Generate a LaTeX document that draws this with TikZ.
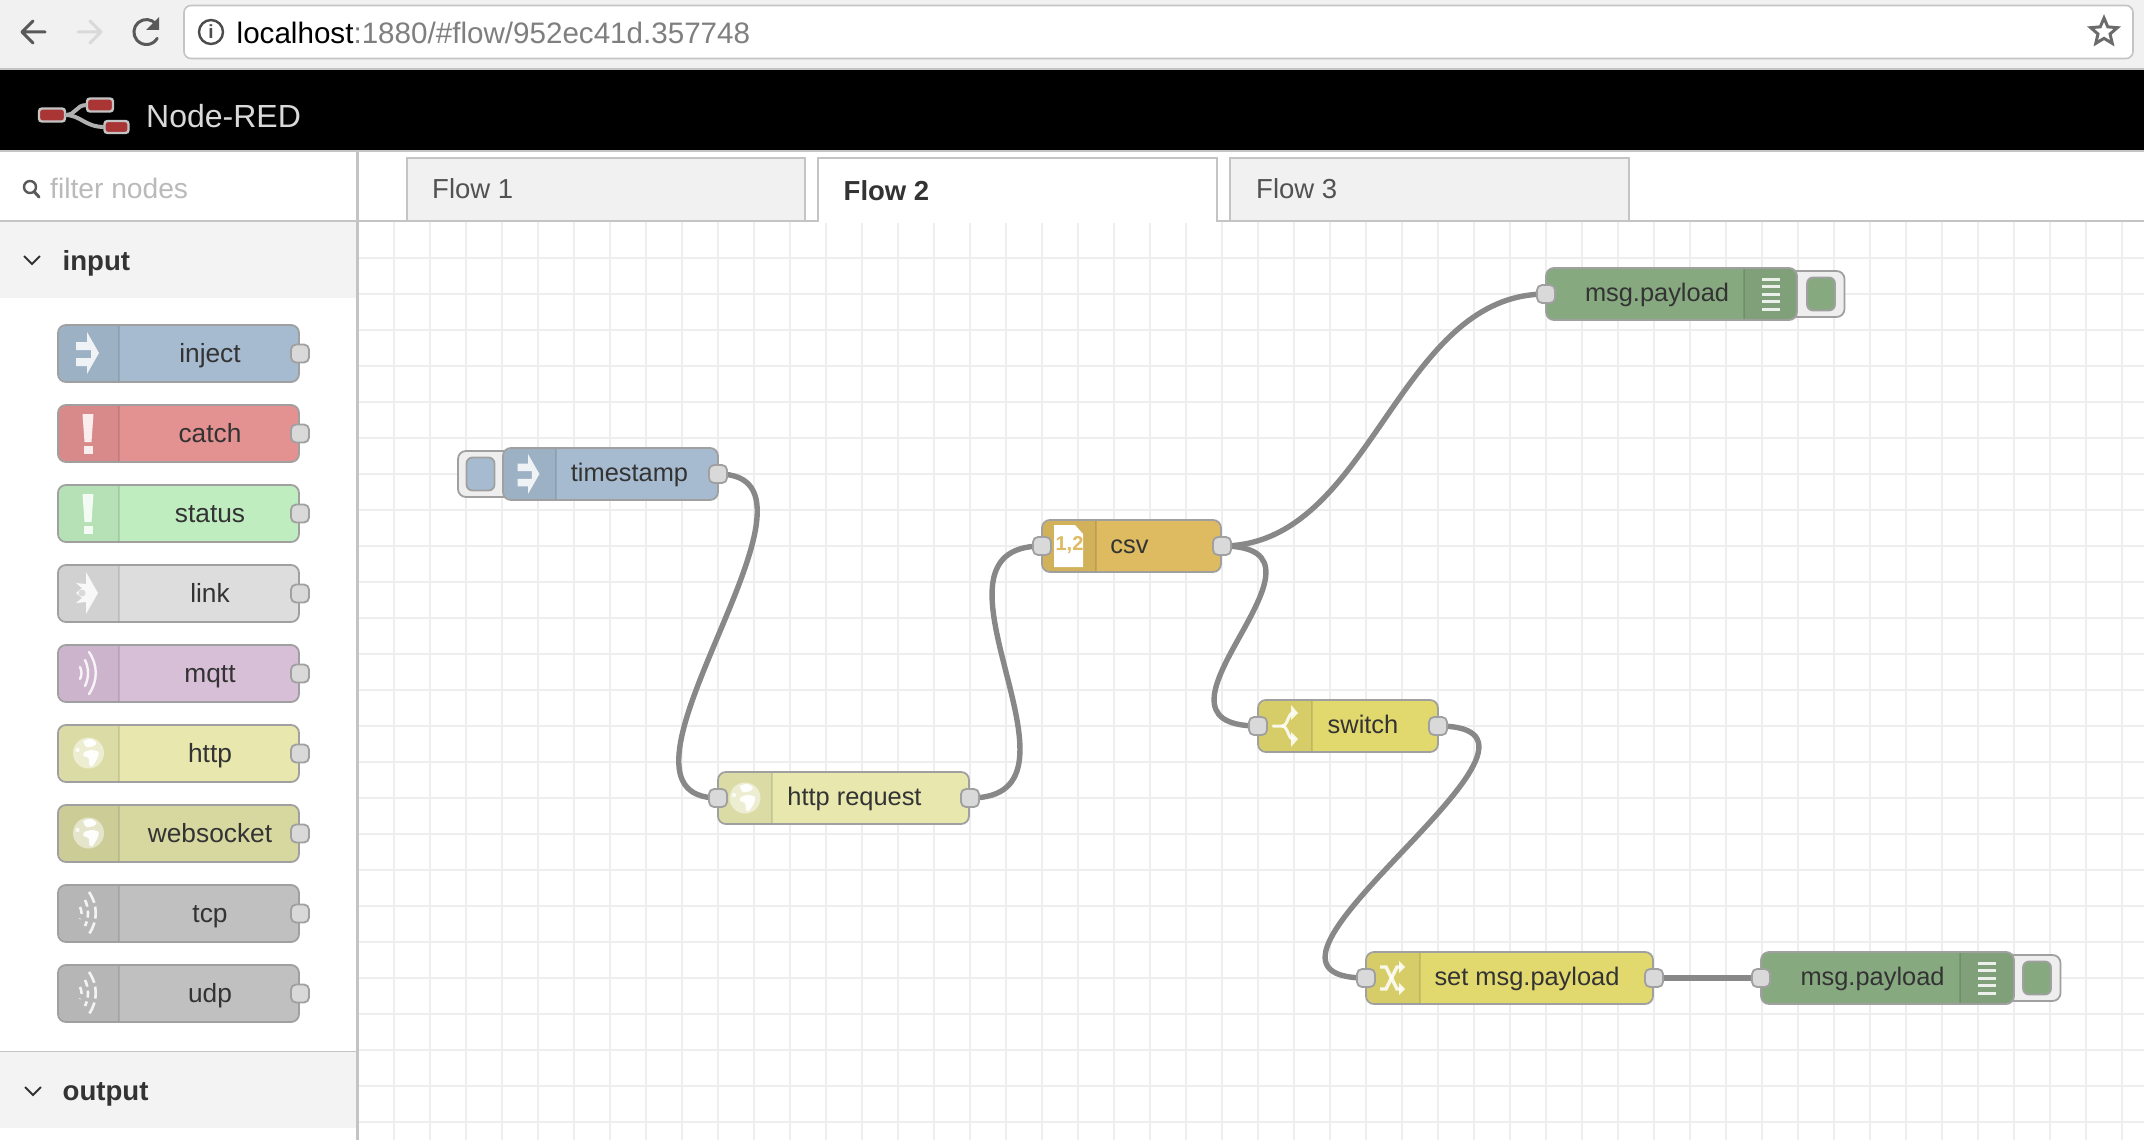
\documentclass[tikz,border=0pt]{standalone}
\usepackage{fontspec}
\setmainfont{Liberation Sans}
\usetikzlibrary{shapes.geometric}
\definecolor{cborder}{HTML}{A0A0A0}
\definecolor{cline}{HTML}{C4C4C4}
\definecolor{cport}{HTML}{D9D9D9}
\definecolor{cwire}{HTML}{888888}
\definecolor{cgrid}{HTML}{EEEEEE}
\definecolor{ctext}{HTML}{333333}
\definecolor{cchrome}{HTML}{F1F1F1}
\definecolor{chead}{HTML}{F3F3F3}
\definecolor{cinject}{HTML}{A6BBCF}
\definecolor{ccatch}{HTML}{E49191}
\definecolor{cstatus}{HTML}{C0EDC0}
\definecolor{clink}{HTML}{DDDDDD}
\definecolor{cmqtt}{HTML}{D8BFD8}
\definecolor{chttp}{HTML}{E7E7AE}
\definecolor{cws}{HTML}{D7D7A0}
\definecolor{ctcp}{HTML}{C0C0C0}
\definecolor{cdebug}{HTML}{87A980}
\definecolor{ccsv}{HTML}{DEBB60}
\definecolor{cswitch}{HTML}{E2D96E}
\definecolor{clogo}{HTML}{A93535}
\pgfdeclarelayer{gridlayer}
\pgfdeclarelayer{wires}
\pgfsetlayers{gridlayer,wires,main}
\newcommand{\fsz}[1]{\fontsize{#1pt}{#1pt}\selectfont}
\tikzset{
  nrbody/.style={draw=cborder,line width=1.8pt,rounded corners=8pt,outer sep=0pt,inner sep=0pt},
  nrport/.style={draw=cborder,fill=cport,line width=1.8pt,rounded corners=5pt,minimum width=18pt,minimum height=18pt,outer sep=0pt,inner sep=0pt},
  nrbutton/.style={draw=cborder,fill=cgrid,line width=1.8pt,rounded corners=8pt,minimum height=46pt,outer sep=0pt,inner sep=0pt},
  nrinner/.style={draw=cborder,line width=1.8pt,rounded corners=6pt,minimum width=28pt,minimum height=33pt,outer sep=0pt,inner sep=0pt},
  sidelabel/.style={anchor=base,inner sep=0pt,text=ctext,font=\fsz{26.3}},
  flowlabel/.style={anchor=base,inner sep=0pt,text=ctext,font=\fsz{25.4}},
  headlabel/.style={anchor=base west,inner sep=0pt,text=ctext,font=\fsz{27.6}\bfseries},
  tabbox/.style={draw=cline,line width=2pt},
  tablabel/.style={anchor=base west,inner sep=0pt,font=\fsz{27.5}},
  wire/.style={draw=cwire,line width=5.4pt},
  iconfill/.style={fill=white,fill opacity=.85},
  iconline/.style={draw=white,draw opacity=.85,line width=3pt,line cap=round},
  chevron/.style={draw=ctext,line width=2pt},
  toolicon/.style={line width=3pt,line cap=round,line join=round},
  logobox/.style={draw=cline,fill=clogo,line width=2.4pt,rounded corners=3pt,outer sep=0pt,inner sep=0pt},
  logowire/.style={draw=cline!90!black,line width=4pt},
}
% id x0 x1 cy halfheight colour stripx0 stripx1 dividerx
\newcommand{\nrnode}[9]{%
  \pgfmathsetmacro\nrw{#3-#2-2}\pgfmathsetmacro\nrh{2*#5-2}%
  \node[nrbody,fill=#6,minimum width=\nrw pt,minimum height=\nrh pt] (#1) at ({(#2+#3)/2},#4) {};
  \begin{scope}
    \clip[rounded corners=8pt] (#2+2,{#4-#5+2}) rectangle (#3-2,{#4+#5-2});
    \fill[black,opacity=.05] (#7,{#4-#5}) rectangle (#8,{#4+#5});
    \draw[black,opacity=.1,line width=2pt] (#9,{#4-#5}) -- (#9,{#4+#5});
  \end{scope}
}
\newcommand{\iconinject}[3]{\begin{scope}[shift={(#1,#2)},scale=#3]
  \fill[iconfill,even odd rule] (-11,-11)--(0,-11)--(0,-21)--(12,0)--(0,21)--(0,13)--(-11,13)--(-11,5)--(4,5)--(4,-3)--(-11,-3)--cycle;
\end{scope}}
\newcommand{\iconbang}[2]{\begin{scope}[shift={(#1,#2)}]
  \fill[iconfill] (-5.5,-19)--(5.5,-19)--(3.5,9)--(-3.5,9)--cycle;
  \fill[iconfill] (-4.5,13) rectangle (4.5,21);
\end{scope}}
\newcommand{\iconlink}[2]{\begin{scope}[shift={(#1,#2)}]
  \fill[iconfill] (-11,-10)--(-1,-9)--(-1,-21)--(11,0)--(-1,21)--(-1,9)--(-11,10)--(-5,5)--(-11,0)--(-5,-5)--cycle;
  \fill[black,opacity=.12] (-5,0) circle (3.5);
\end{scope}}
\newcommand{\iconmqtt}[2]{\begin{scope}[shift={(#1,#2)}]
  \draw[iconline,line width=2.4pt] (-7,-6) .. controls (-5,-2) and (-5,2) .. (-7,6);
  \draw[iconline,line width=2.4pt] (-2,-13) .. controls (2,-5) and (2,5) .. (-2,13);
  \draw[iconline,line width=2.4pt] (2,-21) .. controls (11,-8) and (11,8) .. (2,21);
\end{scope}}
\newcommand{\icontcp}[2]{\begin{scope}[shift={(#1,#2)}]
  \draw[iconline,line width=2.6pt,dash pattern=on 7pt off 5pt,line cap=butt] (-7,-6) .. controls (-5,-2) and (-5,2) .. (-7,6);
  \draw[iconline,line width=2.6pt,dash pattern=on 7pt off 4pt,line cap=butt] (-2,-13) .. controls (2,-5) and (2,5) .. (-2,13);
  \draw[iconline,line width=2.6pt,dash pattern=on 12pt off 4pt,line cap=butt] (2,-21) .. controls (11,-8) and (11,8) .. (2,21);
\end{scope}}
\newcommand{\iconglobe}[2]{\begin{scope}[shift={(#1,#2)}]
  \fill[white,opacity=.5] (0,0) circle (15.5);
  \fill[white,opacity=.95] plot[smooth cycle] coordinates {(-4,-1) (3,-3) (10,-1) (9,5) (4,13) (1,12) (0,5) (-5,3)};
  \fill[white,opacity=.95] plot[smooth cycle] coordinates {(-5,-12) (3,-14) (8,-10) (5,-7) (-2,-6)};
  \fill[white,opacity=.8] (-11,-3) circle (2.2);
\end{scope}}
\newcommand{\icondebug}[2]{\begin{scope}[shift={(#1,#2)}]
  \foreach \k in {-15,-7.5,0,7.5,15} {\fill[iconfill] (-9,\k-1.5) rectangle (9,\k+1.5);}
\end{scope}}
\begin{document}
\begin{tikzpicture}[x=1pt,y=-1pt]
\useasboundingbox (0,0) rectangle (2144,1140);
\clip (0,0) rectangle (2144,1140);
% canvas background and grid
\begin{pgfonlayer}{gridlayer}
\fill[white] (0,0) rectangle (2144,1140);
\foreach \gx in {394,430,...,2140} {\draw[cgrid,line width=2pt] (\gx,222) -- (\gx,1140);}
\foreach \gy in {258,294,...,1130} {\draw[cgrid,line width=2pt] (358,\gy) -- (2144,\gy);}
\end{pgfonlayer}
% browser chrome
\fill[cchrome] (0,0) rectangle (2144,70);
\fill[black] (0,70) rectangle (2144,150);
\draw[cline,line width=2pt] (0,69.5) -- (2144,69.5);
\draw[cline,line width=2pt] (0,151) -- (2144,151);
\node[draw=cline,fill=white,line width=1.6pt,rounded corners=7pt,minimum width=1949pt,minimum height=53pt,inner sep=0pt,outer sep=0pt] (urlbar) at (1158.5,32) {};
\node[anchor=base west,inner sep=0pt,font=\fsz{29.6}] (urltext) at (236.5,43.5) {localhost\textcolor[HTML]{7F7F7F}{:1880/\#flow/952ec41d.357748}};
% toolbar icons
\draw[toolicon,draw=black!65] (45,32) -- (22,32) (33,21) -- (22,32) -- (33,43);
\draw[toolicon,draw=black!15] (78,32) -- (101,32) (90,21) -- (101,32) -- (90,43);
\draw[toolicon,draw=black!65] (156,24) arc (-40:-330:12.5);
\fill[black!65] (159,17) -- (159,30) -- (146,30) -- cycle;
\node[circle,draw=black!70,line width=2.4pt,minimum size=24pt,inner sep=0pt] (infoicon) at (211,32) {};
\node[inner sep=0pt,text=black!70,font=\fsz{19}\bfseries] (infotext) at (211,32) {i};
\node[star,star points=5,star point ratio=2.2,draw=black!58,line width=3pt,minimum size=28pt,inner sep=0pt] (staricon) at (2104,32) {};
% header logo
\node[logobox,minimum width=26pt,minimum height=13pt] (logoa) at (52,115) {};
\node[logobox,minimum width=26pt,minimum height=13pt] (logob) at (100,105) {};
\node[logobox,minimum width=24pt,minimum height=12pt] (logoc) at (116.5,127) {};
\draw[logowire] (logoa.east) .. controls +(12,0) and +(-12,0) .. (logob.west);
\draw[logowire] (logoa.east) .. controls +(16,0) and +(-20,0) .. (logoc.west);
\node[anchor=base west,inner sep=0pt,text=black!15,font=\fsz{32}] (title) at (146,127) {Node-RED};
% sidebar
\fill[chead] (0,222) rectangle (356,298);
\fill[chead] (0,1052) rectangle (356,1128);
\draw[cline,line width=1.5pt] (0,1051.5) -- (356,1051.5);
\draw[cline,line width=2.4pt] (0,221) -- (2144,221);
\draw[cline,line width=2.4pt] (357.3,152) -- (357.3,1140);
% search
\draw[line width=2.4pt,draw=black!65] (30,187) circle (6);
\draw[line width=3pt,draw=black!65,line cap=round] (34.5,192) -- (39,197);
\node[anchor=base west,inner sep=0pt,text=black!27,font=\fsz{28.2}] (filter) at (50,198) {filter nodes};
% tabs
\draw[tabbox,fill=cchrome] (407,220) -- (407,158) -- (805,158) -- (805,220);
\draw[tabbox,fill=white] (818,221) -- (818,158) -- (1217,158) -- (1217,221);
\fill[white] (819,219) rectangle (1216,223);
\draw[tabbox,fill=cchrome] (1230,220) -- (1230,158) -- (1629,158) -- (1629,220);
\node[tablabel,text=black!68] (tabone) at (432,198) {Flow 1};
\node[tablabel,text=ctext,font=\fsz{27.5}\bfseries] (tabtwo) at (843.5,200) {Flow 2};
\node[tablabel,text=black!68] (tabthree) at (1256,198) {Flow 3};
% sidebar headers
\draw[chevron] (24,256) -- (32,264) -- (40,256);
\node[headlabel] (headinput) at (62.5,270) {input};
\draw[chevron] (25,1087) -- (33,1095) -- (41,1087);
\node[headlabel] (headoutput) at (62.5,1100) {output};
% palette
\newcommand{\sidenode}[4]{%
  \nrnode{#1}{57}{300}{#2+0.5}{29.5}{#3}{57}{119}{119}
  \node[sidelabel] (#1label) at (210,#2+9) {#4};
  \node[nrport] (#1port) at (300,#2+0.5) {};
}
\sidenode{pinject}{353}{cinject}{inject}\iconinject{87}{353}{1}
\sidenode{pcatch}{433}{ccatch}{catch}\iconbang{88}{433}
\sidenode{pstatus}{513}{cstatus}{status}\iconbang{88}{513}
\sidenode{plink}{593}{clink}{link}\iconlink{87}{593}
\sidenode{pmqtt}{673}{cmqtt}{mqtt}\iconmqtt{87}{673}
\sidenode{phttp}{753}{chttp}{http}\iconglobe{88.5}{753}
\sidenode{pws}{833}{cws}{websocket}\iconglobe{88.5}{833}
\sidenode{ptcp}{913}{ctcp}{tcp}\icontcp{87}{913}
\sidenode{pudp}{993}{ctcp}{udp}\icontcp{87}{993}
% flow: inject buttons
\node[nrbutton,minimum width=62pt] (tsbtn) at (489,474) {};
\node[nrinner,fill=cinject] (tsbtnin) at (480.5,474) {};
\node[nrbutton,minimum width=64pt] (dbgabtn) at (1812.5,294) {};
\node[nrinner,fill=cdebug] (dbgabtnin) at (1821,294) {};
\node[nrbutton,minimum width=65pt] (dbgbbtn) at (2028,978) {};
\node[nrinner,fill=cdebug] (dbgbbtnin) at (2037,978) {};
% flow nodes
\nrnode{timestamp}{502}{719}{474}{27}{cinject}{502}{556}{556}
\iconinject{528}{474}{.95}
\node[flowlabel] (timestamplabel) at (629.5,481) {timestamp};
\nrnode{httpreq}{717}{970}{798}{27}{chttp}{717}{772}{772}
\iconglobe{745}{798}
\node[flowlabel] (httpreqlabel) at (854.5,805) {http request};
\nrnode{csv}{1041}{1222}{546}{27}{ccsv}{1041}{1096}{1096}
\fill[white] (1054,525) -- (1075,525) -- (1083,534) -- (1083,567) -- (1054,567) -- cycle;
\node[inner sep=0pt,text=ccsv,font=\fsz{20}\bfseries] (csvicon) at (1069.5,545) {1,2};
\node[flowlabel] (csvlabel) at (1129.5,553) {csv};
\nrnode{switch}{1257}{1439}{726}{27}{cswitch}{1257}{1312}{1312}
\begin{scope}[shift={(1285,726)}]
  \draw[iconline] (-12,0) -- (-3,0) .. controls (3,0) and (3,-13) .. (8,-13);
  \draw[iconline] (-3,0) .. controls (3,0) and (3,13) .. (8,13);
  \fill[iconfill] (6,-21) -- (13,-13) -- (6,-6) -- cycle;
  \fill[iconfill] (6,6) -- (13,13) -- (6,21) -- cycle;
\end{scope}
\node[flowlabel] (switchlabel) at (1363,733) {switch};
\nrnode{setmsg}{1365}{1654}{978}{27}{cswitch}{1365}{1420}{1420}
\begin{scope}[shift={(1392,978)}]
  \draw[iconline,line cap=butt,line width=3.4pt] (-12,-11) -- (-6,-11) -- (5,11) -- (9,11);
  \draw[iconline,line cap=butt,line width=3.4pt] (-12,11) -- (-6,11) -- (5,-11) -- (9,-11);
  \fill[iconfill] (7,-17) -- (13,-11) -- (7,-5) -- cycle;
  \fill[iconfill] (7,5) -- (13,11) -- (7,17) -- cycle;
\end{scope}
\node[flowlabel] (setmsglabel) at (1527,985) {set msg.payload};
\nrnode{dbga}{1545}{1798}{294}{27}{cdebug}{1744}{1798}{1744}
\icondebug{1771}{294}
\node[flowlabel] (dbgalabel) at (1657,301) {msg.payload};
\nrnode{dbgb}{1760}{2015}{978}{27}{cdebug}{1960}{2015}{1960}
\icondebug{1987}{978}
\node[flowlabel] (dbgblabel) at (1872.5,985) {msg.payload};
% ports
\node[nrport] (tsout) at (718,474) {};
\node[nrport] (httpin) at (718,798) {};
\node[nrport] (httpout) at (970,798) {};
\node[nrport] (csvin) at (1042,546) {};
\node[nrport] (csvout) at (1222,546) {};
\node[nrport] (switchin) at (1258,726) {};
\node[nrport] (switchout) at (1438,726) {};
\node[nrport] (setin) at (1366,978) {};
\node[nrport] (setout) at (1654,978) {};
\node[nrport] (dbgain) at (1546,294) {};
\node[nrport] (dbgbin) at (1761,978) {};
% wires
\begin{pgfonlayer}{wires}
\draw[wire] (tsout.center) .. controls +(136,0) and +(-136,0) .. (httpin.center);
\draw[wire] (httpout.center) .. controls +(136,0) and +(-136,0) .. (csvin.center);
\draw[wire] (csvout.center) .. controls +(150,0) and +(-150,0) .. (dbgain.center);
\draw[wire] (csvout.center) .. controls +(136,0) and +(-136,0) .. (switchin.center);
\draw[wire] (switchout.center) .. controls +(166,0) and +(-166,0) .. (setin.center);
\draw[wire] (setout.center) -- (dbgbin.center);
\end{pgfonlayer}
\end{tikzpicture}
\end{document}
